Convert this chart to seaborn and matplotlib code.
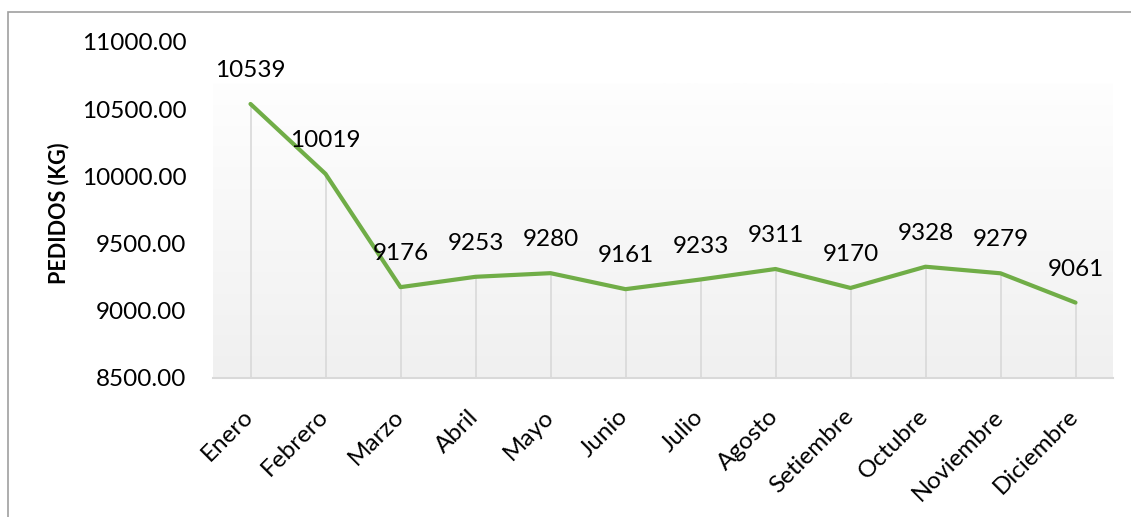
import matplotlib
matplotlib.use("Agg")
import matplotlib.pyplot as plt
import matplotlib.patches as patches
from matplotlib.ticker import FormatStrFormatter
from matplotlib.colors import LinearSegmentedColormap
from matplotlib.transforms import ScaledTranslation
import seaborn as sns
import numpy as np
import pandas as pd

meses = ["Enero", "Febrero", "Marzo", "Abril", "Mayo", "Junio", "Julio",
         "Agosto", "Setiembre", "Octubre", "Noviembre", "Diciembre"]
pedidos = [10539, 10019, 9176, 9253, 9280, 9161, 9233, 9311, 9170, 9328, 9279, 9061]
y_ticks = [8500, 9000, 9500, 10000, 10500, 11000]

df = pd.DataFrame({"mes": meses, "pedidos": pedidos})

sns.set_style("white")
plt.rcParams["font.family"] = ["Lato", "DejaVu Sans"]

fig = plt.figure(figsize=(11.31, 5.17), dpi=100)
ax = fig.add_axes([213 / 1131, 1 - 378 / 517, 900 / 1131, (378 - 42) / 517])

# light gray gradient behind the plot area
grad = np.linspace(0, 1, 256).reshape(-1, 1)
cmap = LinearSegmentedColormap.from_list("bg", ["#FEFEFE", "#F0F0F0"])
ax.imshow(grad, cmap=cmap, aspect="auto", extent=(-0.5, 11.5, 8500, 10690),
          zorder=0, origin="upper")

x = np.arange(len(meses))
# drop lines
ax.vlines(x, 8500, df["pedidos"], color="#D9D9D9", lw=1.2, zorder=1)

sns.lineplot(x=x, y=df["pedidos"], ax=ax, color="#70AD47", lw=3, sort=False, zorder=3)

for xi, v in zip(x, pedidos):
    ax.annotate(f"{v}", (xi, v), xytext=(0, 24), textcoords="offset points",
                ha="center", va="center", fontsize=17.5, color="#000000", zorder=4)

ax.set_xlim(-0.5, 11.5)
ax.set_ylim(8500, 11000)
ax.set_yticks(y_ticks)
ax.yaxis.set_major_formatter(FormatStrFormatter("%.2f"))
ax.set_xticks(x)
ax.set_xticklabels(meses, rotation=45, ha="right", rotation_mode="anchor")
ax.tick_params(axis="y", length=0, pad=19, labelsize=17.5, labelcolor="#000000")
ax.tick_params(axis="x", length=0, pad=20, labelsize=17.5, labelcolor="#000000")
shift = ScaledTranslation(-8 / 100, 0, fig.dpi_scale_trans)
for lab in ax.get_xticklabels():
    lab.set_transform(lab.get_transform() + shift)
ax.set_xlabel("")
ax.set_ylabel("PEDIDOS (KG)", fontsize=15.5, fontweight="bold", color="#000000")
ax.yaxis.set_label_coords(-0.16, 0.49)

for s in ["top", "right", "left"]:
    ax.spines[s].set_visible(False)
ax.spines["bottom"].set_color("#D9D9D9")
ax.spines["bottom"].set_linewidth(1.5)
ax.spines["bottom"].set_zorder(2)
ax.grid(False)

# chart frame
fig.patches.append(patches.Rectangle((8 / 1131, -0.02), 1.1, (517 - 12) / 517 + 0.02,
                                     transform=fig.transFigure, fill=False,
                                     edgecolor="#A0A0A0", lw=1.2))

fig.savefig("out.png", dpi=100)
